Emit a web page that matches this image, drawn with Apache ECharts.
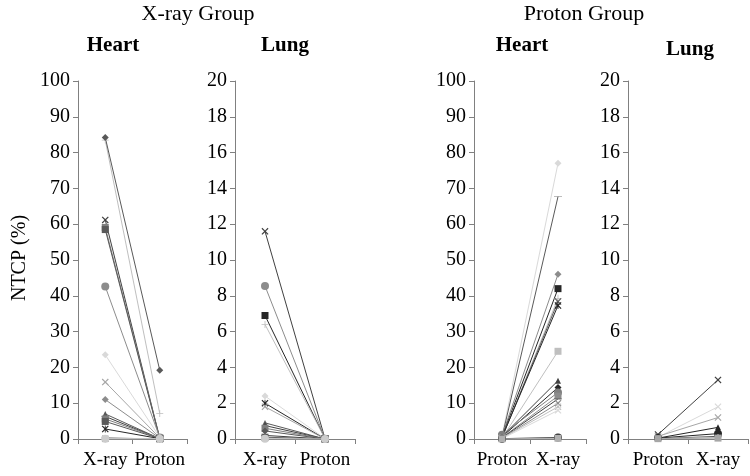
<!DOCTYPE html>
<html><head><meta charset="utf-8">
<script src="https://cdn.jsdelivr.net/npm/echarts@6/dist/echarts.min.js"></script>
<style>html,body{margin:0;padding:0;background:#fff}#c{width:750px;height:476px}</style>
</head><body><div id="c"></div>
<script>
// ---- categories & tick labels ----
var catXrayGroup = ['X-ray', 'Proton'];
var catProtonGroup = ['Proton', 'X-ray'];
var heartTicks = [0, 100, 10];
var lungTicks = [0, 20, 2];
var groupTitles = ['X-ray Group', 'Proton Group'];
var panelTitles = ['Heart', 'Lung', 'Heart', 'Lung'];
var yTitle = 'NTCP (%)';

// ---- X-ray group, heart: [X-ray, Proton] per patient ----
var xgHeartXray   = [83.5, 84.2, 61.2, 59.1, 58.5, 42.6, 23.5, 15.9, 11.0, 7.0, 6.3, 5.6, 4.9, 2.8, 0.3, 0.05, 0.1];
var xgHeartProton = [7.1, 19.2, 0.2, 0.3, 0.1, 0.4, 0.5, 0.3, 0.2, 0.1, 0.1, 0.2, 0.1, 0.1, 0.0, 0.0, 0.1];
// ---- X-ray group, lung ----
var xgLungXray    = [11.6, 8.55, 6.9, 6.4, 2.4, 2.0, 1.8, 0.9, 0.75, 0.6, 0.45, 0.2, 0.1, 0.05, 0.02];
var xgLungProton  = [0.02, 0.02, 0.02, 0.02, 0.02, 0.0, 0.0, 0.0, 0.0, 0.0, 0.0, 0.0, 0.0, 0.0, 0.0];
// ---- Proton group, heart: [Proton, X-ray] ----
var pgHeartProton = [0.8, 0.5, 1.0, 0.6, 0.3, 0.4, 0.5, 0.2, 0.7, 0.6, 1.2, 0.4, 0.3, 0.2, 0.2, 0.1, 0.1, 0.05];
var pgHeartXray   = [77.0, 67.7, 46.0, 42.0, 39.3, 38.4, 37.3, 24.5, 16.3, 14.4, 13.0, 12.0, 11.2, 10.0, 9.0, 8.0, 0.4, 0.2];
// ---- Proton group, lung ----
var pgLungProton  = [0.25, 0.1, 0.15, 0.05, 0.05, 0.02, 0.02, 0.02];
var pgLungXray    = [3.3, 1.8, 1.2, 0.65, 0.3, 0.15, 0.08, 0.05];

// ---- styles (markers / colours) ----
var SYM = {
  diamond: 'diamond', square: 'rect', triangle: 'triangle', circle: 'circle',
  x: 'path://M0,1.2 L1.2,0 L5,3.8 L8.8,0 L10,1.2 L6.2,5 L10,8.8 L8.8,10 L5,6.2 L1.2,10 L0,8.8 L3.8,5 Z',
  plus: 'path://M4.4,0 H5.6 V4.4 H10 V5.6 H5.6 V10 H4.4 V5.6 H0 V4.4 H4.4 Z',
  star: 'path://M0,1.2 L1.2,0 L4.4,3.2 L4.4,0 L5.6,0 L5.6,3.2 L8.8,0 L10,1.2 L6.2,5 L10,8.8 L8.8,10 L5.6,6.8 L5.6,10 L4.4,10 L4.4,6.8 L1.2,10 L0,8.8 L3.8,5 Z',
  dash: 'path://M0,0 H10 V2 H0 Z'
};
var xgHeartStyle = [['plus','#bfbfbf'],['diamond','#595959'],['x','#404040'],['square','#7f7f7f'],['square','#595959'],['circle','#8c8c8c'],['diamond','#d9d9d9'],['x','#a6a6a6'],['diamond','#8c8c8c'],['triangle','#595959'],['dash','#404040'],['square','#7f7f7f'],['square','#595959'],['star','#262626'],['dash','#595959'],['star','#808080'],['circle','#cccccc']];
var xgLungStyle = [['x','#404040'],['circle','#8c8c8c'],['square','#262626'],['plus','#bfbfbf'],['diamond','#d9d9d9'],['star','#262626'],['x','#a6a6a6'],['triangle','#595959'],['triangle','#404040'],['square','#7f7f7f'],['diamond','#595959'],['dash','#404040'],['square','#595959'],['star','#808080'],['circle','#cccccc']];
var pgHeartStyle = [['diamond','#d9d9d9'],['dash','#595959'],['diamond','#8c8c8c'],['square','#262626'],['plus','#bfbfbf'],['x','#595959'],['star','#262626'],['square','#bfbfbf'],['triangle','#404040'],['diamond','#262626'],['circle','#7f7f7f'],['square','#8c8c8c'],['dash','#404040'],['x','#8c8c8c'],['x','#bfbfbf'],['x','#d9d9d9'],['circle','#262626'],['square','#b0b0b0']];
var pgLungStyle = [['x','#404040'],['x','#d9d9d9'],['x','#a6a6a6'],['triangle','#262626'],['circle','#262626'],['dash','#595959'],['diamond','#bfbfbf'],['square','#a6a6a6']];

var FONT = '"Liberation Serif", "Times New Roman", serif';
var AX = '#808080';

var grids = [
  {left: 78, top: 81, width: 109, height: 358},
  {left: 235, top: 81, width: 120, height: 358},
  {left: 474, top: 81, width: 112, height: 358},
  {left: 628, top: 81, width: 120, height: 358}
];
var cats = [catXrayGroup, catXrayGroup, catProtonGroup, catProtonGroup];
var ticks = [heartTicks, lungTicks, heartTicks, lungTicks];
var panels = [
  [xgHeartXray, xgHeartProton, xgHeartStyle],
  [xgLungXray, xgLungProton, xgLungStyle],
  [pgHeartProton, pgHeartXray, pgHeartStyle],
  [pgLungProton, pgLungXray, pgLungStyle]
];

var xAxis = [], yAxis = [], series = [];
for (var i = 0; i < 4; i++) {
  xAxis.push({
    gridIndex: i, type: 'category', data: cats[i], boundaryGap: true,
    axisLine: {lineStyle: {color: AX, width: 1}},
    axisTick: {show: true, length: 5, lineStyle: {color: AX}},
    axisLabel: {color: '#000', fontFamily: FONT, fontSize: 19, margin: 12, interval: 0}
  });
  yAxis.push({
    gridIndex: i, type: 'value', min: ticks[i][0], max: ticks[i][1], interval: ticks[i][2],
    axisLine: {show: true, lineStyle: {color: AX, width: 1}},
    axisTick: {show: true, length: 5, lineStyle: {color: AX}},
    splitLine: {show: false},
    axisLabel: {color: '#000', fontFamily: FONT, fontSize: 20, margin: 8}
  });
  var a = panels[i][0], b = panels[i][1], st = panels[i][2];
  for (var k = 0; k < a.length; k++) {
    var s = st[k][0];
    series.push({
      type: 'line', xAxisIndex: i, yAxisIndex: i,
      data: [a[k], b[k]],
      symbol: SYM[s], symbolKeepAspect: true,
      symbolSize: s === 'dash' ? [8, 2] : (s === 'circle' ? 8 : (s === 'triangle' ? 6 : 7)),
      lineStyle: {color: st[k][1], width: 1},
      itemStyle: {color: st[k][1]},
      showSymbol: true, animation: false, silent: true
    });
  }
}

var graphic = [
  {type: 'text', x: 198, y: 14, style: {text: groupTitles[0], font: '22px ' + FONT, fill: '#000', textAlign: 'center', textVerticalAlign: 'middle'}},
  {type: 'text', x: 584, y: 14, style: {text: groupTitles[1], font: '22px ' + FONT, fill: '#000', textAlign: 'center', textVerticalAlign: 'middle'}},
  {type: 'text', x: 113, y: 46, style: {text: panelTitles[0], font: 'bold 21px ' + FONT, fill: '#000', textAlign: 'center', textVerticalAlign: 'middle'}},
  {type: 'text', x: 285, y: 46, style: {text: panelTitles[1], font: 'bold 21px ' + FONT, fill: '#000', textAlign: 'center', textVerticalAlign: 'middle'}},
  {type: 'text', x: 522, y: 46, style: {text: panelTitles[2], font: 'bold 21px ' + FONT, fill: '#000', textAlign: 'center', textVerticalAlign: 'middle'}},
  {type: 'text', x: 690, y: 50, style: {text: panelTitles[3], font: 'bold 21px ' + FONT, fill: '#000', textAlign: 'center', textVerticalAlign: 'middle'}},
  {type: 'text', x: 20, y: 258, rotation: Math.PI / 2, style: {text: yTitle, font: '20px ' + FONT, fill: '#000', textAlign: 'center', textVerticalAlign: 'middle'}}
];

var chart = echarts.init(document.getElementById('c'), null, {renderer: 'canvas'});
chart.setOption({
  animation: false,
  backgroundColor: '#fff',
  grid: grids, xAxis: xAxis, yAxis: yAxis, series: series, graphic: graphic
});
</script></body></html>
